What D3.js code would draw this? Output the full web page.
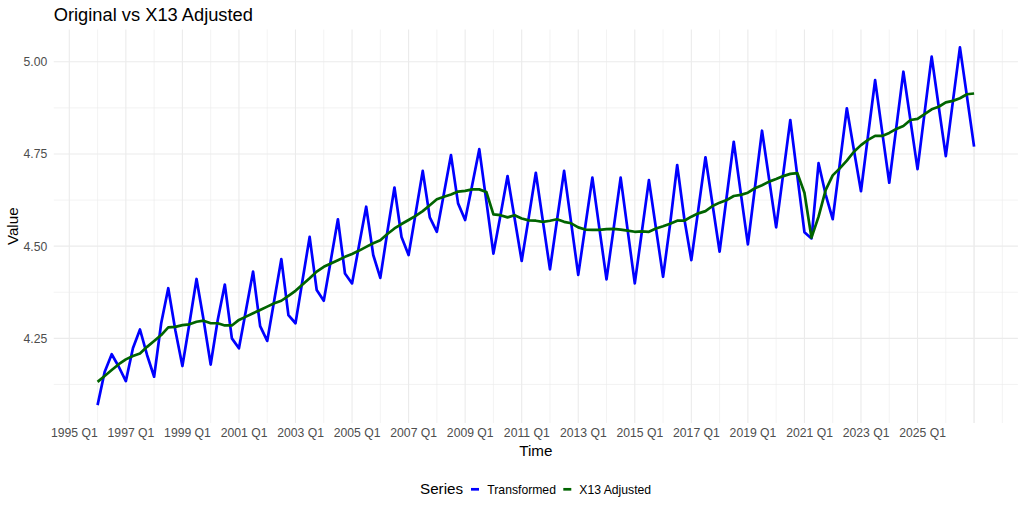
<!DOCTYPE html>
<html>
<head>
<meta charset="utf-8">
<script src="https://cdn.jsdelivr.net/npm/d3@7"></script>
<style>
  html, body { margin: 0; padding: 0; background: #fff; }
  svg { display: block; font-family: "Liberation Sans", Arial, Helvetica, sans-serif; }
</style>
</head>
<body>
<svg id="chart" width="1024" height="512"></svg>
<script>
// ---- data ----
const startYear = 1996;          // first observation: 1996 Q1
const quarters = [];             // categories: 1996 Q1 ... 2027 Q1
for (let k = 0; k < 125; k++) quarters.push((startYear + Math.floor(k / 4)) + " Q" + (k % 4 + 1));

const transformed = [
  4.069, 4.159, 4.207, 4.173, 4.134, 4.223, 4.274, 4.205, 4.146, 4.291,
  4.386, 4.272, 4.175, 4.291, 4.411, 4.300, 4.179, 4.300, 4.396, 4.250,
  4.223, 4.327, 4.431, 4.283, 4.243, 4.354, 4.465, 4.313, 4.291, 4.408,
  4.525, 4.381, 4.352, 4.462, 4.573, 4.426, 4.399, 4.503, 4.607, 4.476,
  4.414, 4.539, 4.659, 4.525, 4.476, 4.589, 4.704, 4.578, 4.539, 4.643,
  4.747, 4.616, 4.571, 4.666, 4.763, 4.622, 4.480, 4.584, 4.690, 4.575,
  4.460, 4.578, 4.699, 4.568, 4.437, 4.571, 4.704, 4.563, 4.422, 4.554,
  4.686, 4.547, 4.410, 4.547, 4.686, 4.542, 4.399, 4.539, 4.679, 4.548,
  4.417, 4.560, 4.720, 4.575, 4.462, 4.601, 4.741, 4.613, 4.485, 4.634,
  4.783, 4.643, 4.505, 4.659, 4.813, 4.682, 4.551, 4.696, 4.842, 4.690,
  4.538, 4.521, 4.725, 4.640, 4.573, 4.723, 4.874, 4.761, 4.649, 4.800,
  4.950, 4.810, 4.672, 4.822, 4.973, 4.841, 4.709, 4.862, 5.014, 4.878,
  4.744, 4.892, 5.039, 4.905, 4.770
];

const x13Adjusted = [
  4.132, 4.148, 4.164, 4.180, 4.193, 4.202, 4.209, 4.227, 4.243, 4.259,
  4.280, 4.281, 4.286, 4.288, 4.295, 4.298, 4.291, 4.291, 4.285, 4.285,
  4.300, 4.309, 4.318, 4.327, 4.336, 4.345, 4.352, 4.365, 4.379, 4.396,
  4.413, 4.431, 4.444, 4.453, 4.462, 4.471, 4.479, 4.488, 4.498, 4.508,
  4.516, 4.533, 4.548, 4.560, 4.571, 4.582, 4.595, 4.611, 4.627, 4.634,
  4.640, 4.648, 4.650, 4.654, 4.654, 4.647, 4.586, 4.584, 4.578, 4.584,
  4.575, 4.570, 4.569, 4.566, 4.569, 4.573, 4.566, 4.562, 4.551, 4.545,
  4.544, 4.544, 4.546, 4.547, 4.545, 4.542, 4.539, 4.540, 4.539, 4.548,
  4.554, 4.561, 4.569, 4.569, 4.580, 4.589, 4.595, 4.609, 4.618, 4.625,
  4.636, 4.639, 4.645, 4.657, 4.665, 4.675, 4.682, 4.690, 4.696, 4.698,
  4.645, 4.523, 4.580, 4.652, 4.692, 4.711, 4.732, 4.756, 4.774, 4.788,
  4.799, 4.799, 4.807, 4.818, 4.826, 4.842, 4.845, 4.858, 4.871, 4.878,
  4.890, 4.894, 4.901, 4.912, 4.914
];

const xTickYears = [1995, 1997, 1999, 2001, 2003, 2005, 2007, 2009, 2011, 2013, 2015, 2017, 2019, 2021, 2023, 2025];
const xTickLabels = xTickYears.map(y => y + " Q1");
const yTicks = [4.25, 4.50, 4.75, 5.00];
const yTickLabels = ["4.25", "4.50", "4.75", "5.00"];
const seriesNames = ["Transformed", "X13 Adjusted"];
const seriesColors = ["#0000FF", "#006400"];

// ---- layout ----
const W = 1024, H = 512;
const panel = { left: 53.75, right: 1017.9, top: 29.5, bottom: 423 };
const gridColor = "#EBEBEB";
const textGray = "#4D4D4D";

const timeOf = k => startYear + k / 4;
const tExtent = [timeOf(0), timeOf(quarters.length - 1)];
const tPad = (tExtent[1] - tExtent[0]) * 0.05;
const allVals = transformed.concat(x13Adjusted);
const vExtent = d3.extent(allVals);
const vPad = (vExtent[1] - vExtent[0]) * 0.05;

const x = d3.scaleLinear().domain([tExtent[0] - tPad, tExtent[1] + tPad]).range([panel.left, panel.right]);
const y = d3.scaleLinear().domain([vExtent[0] - vPad, vExtent[1] + vPad]).range([panel.bottom, panel.top]);

const svg = d3.select("#chart");
svg.append("rect").attr("width", W).attr("height", H).attr("fill", "#fff");

// grid
const g = svg.append("g");
const minorY = yTicks.slice(0, -1).map((v, i) => (v + yTicks[i + 1]) / 2)
  .concat([yTicks[0] - 0.125, yTicks[yTicks.length - 1] + 0.125])
  .filter(v => y(v) >= panel.top && y(v) <= panel.bottom);
g.selectAll("line.ymin").data(minorY).join("line")
  .attr("x1", panel.left).attr("x2", panel.right)
  .attr("y1", d => y(d)).attr("y2", d => y(d))
  .attr("stroke", gridColor).attr("stroke-width", 0.6);
const gridYears = d3.range(Math.ceil(x.domain()[0]), Math.floor(x.domain()[1]) + 1);
g.selectAll("line.xmin").data(gridYears.filter(yr => !xTickYears.includes(yr))).join("line")
  .attr("y1", panel.top).attr("y2", panel.bottom)
  .attr("x1", d => x(d)).attr("x2", d => x(d))
  .attr("stroke", gridColor).attr("stroke-width", 0.6);
g.selectAll("line.ymaj").data(yTicks).join("line")
  .attr("x1", panel.left).attr("x2", panel.right)
  .attr("y1", d => y(d)).attr("y2", d => y(d))
  .attr("stroke", gridColor).attr("stroke-width", 1.1);
g.selectAll("line.xmaj").data(gridYears.filter(yr => xTickYears.includes(yr) || (yr % 2 === 1))).join("line")
  .attr("y1", panel.top).attr("y2", panel.bottom)
  .attr("x1", d => x(d)).attr("x2", d => x(d))
  .attr("stroke", gridColor).attr("stroke-width", 1.1);

// axes (text only, as in theme_minimal)
const yAxis = d3.axisLeft(y).tickValues(yTicks).tickFormat((d, i) => yTickLabels[i]).tickSize(0).tickPadding(6.5);
const ya = svg.append("g").attr("transform", `translate(${panel.left},0)`).call(yAxis);
ya.select(".domain").remove();
ya.selectAll("text").attr("fill", textGray).attr("font-size", 12.2).attr("font-family", "Liberation Sans, Arial, sans-serif");

const labelNudge = 4.6;
const xAxis = d3.axisBottom(x).tickValues(xTickYears).tickFormat((d, i) => xTickLabels[i]).tickSize(0).tickPadding(5);
const xa = svg.append("g").attr("transform", `translate(${labelNudge},${panel.bottom})`).call(xAxis);
xa.select(".domain").remove();
xa.selectAll("text").attr("fill", textGray).attr("font-size", 12.2).attr("font-family", "Liberation Sans, Arial, sans-serif");

// lines
const line = vals => d3.line().x((d, k) => x(timeOf(k))).y(d => y(d))(vals);
svg.append("path").attr("d", line(transformed)).attr("fill", "none")
  .attr("stroke", seriesColors[0]).attr("stroke-width", 2.7).attr("stroke-linejoin", "round");
svg.append("path").attr("d", line(x13Adjusted)).attr("fill", "none")
  .attr("stroke", seriesColors[1]).attr("stroke-width", 2.7).attr("stroke-linejoin", "round");

// titles
svg.append("text").attr("x", panel.left).attr("y", 20.8)
  .attr("font-size", 18.3).attr("fill", "#000").text("Original vs X13 Adjusted");
svg.append("text").attr("x", (panel.left + panel.right) / 2).attr("y", 456)
  .attr("text-anchor", "middle").attr("font-size", 15.2).attr("fill", "#000").text("Time");
svg.append("text").attr("transform", `translate(18,${(panel.top + panel.bottom) / 2}) rotate(-90)`)
  .attr("text-anchor", "middle").attr("font-size", 15.2).attr("fill", "#000").text("Value");

// legend
const lg = svg.append("g");
lg.append("text").attr("x", 420).attr("y", 494).attr("font-size", 15.2).attr("fill", "#000").text("Series");
const keyX = [471, 563.3];
const labX = [487.3, 579.3];
seriesNames.forEach((name, i) => {
  lg.append("line").attr("x1", keyX[i]).attr("x2", keyX[i] + 8).attr("y1", 489.3).attr("y2", 489.3)
    .attr("stroke", seriesColors[i]).attr("stroke-width", 2.7);
  lg.append("text").attr("x", labX[i]).attr("y", 493.5).attr("font-size", 12.2).attr("fill", "#000").text(name);
});
</script>
</body>
</html>
